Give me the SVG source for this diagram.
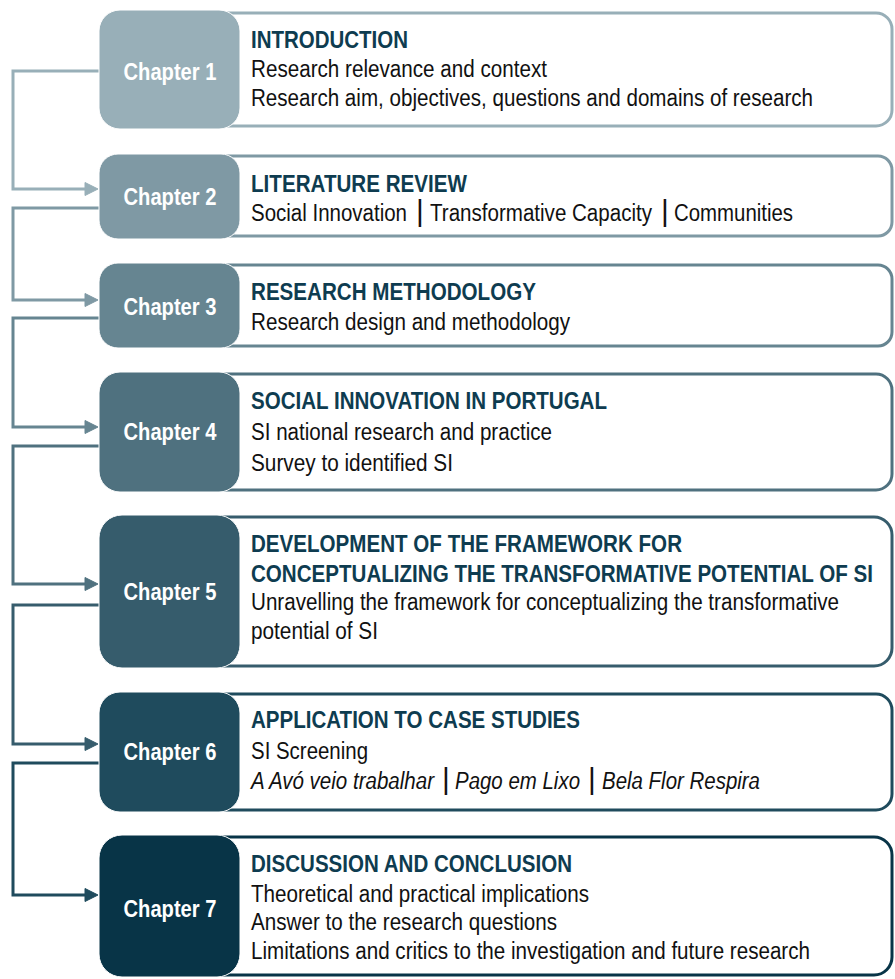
<svg xmlns="http://www.w3.org/2000/svg" xmlns:xlink="http://www.w3.org/1999/xlink" width="895" height="979" viewBox="0 0 895 979">
  <style>
    .frame { fill: #ffffff; stroke-width: 3; }
    .tab { stroke: #ffffff; stroke-width: 1; }
    .lbl { font-family: "Liberation Sans Narrow", "Liberation Sans", Arial, sans-serif; font-size: 24px; font-weight: bold; fill: #ffffff; text-anchor: middle; }
    .ttl { font-family: "Liberation Sans Narrow", "Liberation Sans", Arial, sans-serif; font-size: 23px; font-weight: bold; fill: #0e3c50; }
    .txt { font-family: "Liberation Sans Narrow", "Liberation Sans", Arial, sans-serif; font-size: 23.5px; fill: #111111; }
    .it { font-style: italic; }
    .bar { font-family: "Liberation Sans", Arial, sans-serif; font-size: 30px; fill: #111111; }
    .wire { fill: none; stroke-width: 3; }
    .c1 { color: #98afb8; stroke: #98afb8; }
    .c2 { color: #7f99a4; stroke: #7f99a4; }
    .c3 { color: #668591; stroke: #668591; }
    .c4 { color: #4f717f; stroke: #4f717f; }
    .c5 { color: #365c6c; stroke: #365c6c; }
    .c6 { color: #1f4b5d; stroke: #1f4b5d; }
    .c7 { color: #083447; stroke: #083447; }
  </style>
  <defs>
    <path id="ah" d="M0,-6.5 L13,0 L0,6.5 Z" fill="currentColor"/>
  </defs>

  <rect width="895" height="979" fill="#ffffff"/>

  <!-- connectors: each leaves a chapter tab on the left and enters the next one -->
  <g id="connectors">
    <g class="c1"><path class="wire" d="M100,71 H13 V189 H86"/><use xlink:href="#ah" x="85" y="189"/></g>
    <g class="c2"><path class="wire" d="M100,208 H13 V300 H86"/><use xlink:href="#ah" x="85" y="300"/></g>
    <g class="c3"><path class="wire" d="M100,318 H13 V427 H86"/><use xlink:href="#ah" x="85" y="427"/></g>
    <g class="c4"><path class="wire" d="M100,446 H13 V584 H86"/><use xlink:href="#ah" x="85" y="584"/></g>
    <g class="c5"><path class="wire" d="M100,605 H13 V744 H86"/><use xlink:href="#ah" x="85" y="744"/></g>
    <g class="c6"><path class="wire" d="M100,763 H13 V895 H86"/><use xlink:href="#ah" x="85" y="895"/></g>
  </g>

  <g id="chapter1">
    <rect class="frame c1" x="200" y="13" width="692" height="113" rx="16"/>
    <rect class="tab" x="99" y="10" width="141" height="119" rx="21" fill="#98afb8"/>
    <text class="lbl" x="170" y="80" textLength="93" lengthAdjust="spacingAndGlyphs">Chapter 1</text>
    <text class="ttl" x="251" y="47.5" textLength="157" lengthAdjust="spacingAndGlyphs">INTRODUCTION</text>
    <text class="txt" x="251" y="77" textLength="296" lengthAdjust="spacingAndGlyphs">Research relevance and context</text>
    <text class="txt" x="251" y="106" textLength="562" lengthAdjust="spacingAndGlyphs">Research aim, objectives, questions and domains of research</text>
  </g>

  <g id="chapter2">
    <rect class="frame c2" x="200" y="156" width="692" height="80" rx="14"/>
    <rect class="tab" x="99" y="154" width="141" height="85" rx="19" fill="#7f99a4"/>
    <text class="lbl" x="170" y="205" textLength="93" lengthAdjust="spacingAndGlyphs">Chapter 2</text>
    <text class="ttl" x="251" y="192" textLength="216" lengthAdjust="spacingAndGlyphs">LITERATURE REVIEW</text>
    <text class="txt" x="251" y="221" textLength="156" lengthAdjust="spacingAndGlyphs">Social Innovation</text>
    <text class="bar" x="416" y="221">|</text>
    <text class="txt" x="430" y="221" textLength="222" lengthAdjust="spacingAndGlyphs">Transformative Capacity</text>
    <text class="bar" x="661" y="221">|</text>
    <text class="txt" x="674" y="221" textLength="119" lengthAdjust="spacingAndGlyphs">Communities</text>
  </g>

  <g id="chapter3">
    <rect class="frame c3" x="200" y="265" width="692" height="81" rx="14"/>
    <rect class="tab" x="99" y="263" width="141" height="85" rx="19" fill="#668591"/>
    <text class="lbl" x="170" y="315" textLength="93" lengthAdjust="spacingAndGlyphs">Chapter 3</text>
    <text class="ttl" x="251" y="300" textLength="285" lengthAdjust="spacingAndGlyphs">RESEARCH METHODOLOGY</text>
    <text class="txt" x="251" y="330" textLength="319" lengthAdjust="spacingAndGlyphs">Research design and methodology</text>
  </g>

  <g id="chapter4">
    <rect class="frame c4" x="200" y="374" width="692" height="116" rx="16"/>
    <rect class="tab" x="99" y="372" width="141" height="120" rx="21" fill="#4f717f"/>
    <text class="lbl" x="170" y="440" textLength="93" lengthAdjust="spacingAndGlyphs">Chapter 4</text>
    <text class="ttl" x="251" y="409" textLength="356" lengthAdjust="spacingAndGlyphs">SOCIAL INNOVATION IN PORTUGAL</text>
    <text class="txt" x="251" y="440" textLength="301" lengthAdjust="spacingAndGlyphs">SI national research and practice</text>
    <text class="txt" x="251" y="471" textLength="202" lengthAdjust="spacingAndGlyphs">Survey to identified SI</text>
  </g>

  <g id="chapter5">
    <rect class="frame c5" x="200" y="517" width="692" height="149" rx="18"/>
    <rect class="tab" x="99" y="515" width="141" height="153" rx="23" fill="#365c6c"/>
    <text class="lbl" x="170" y="600" textLength="93" lengthAdjust="spacingAndGlyphs">Chapter 5</text>
    <text class="ttl" x="251" y="552" textLength="431" lengthAdjust="spacingAndGlyphs">DEVELOPMENT OF THE FRAMEWORK FOR</text>
    <text class="ttl" x="251" y="582" textLength="622" lengthAdjust="spacingAndGlyphs">CONCEPTUALIZING THE TRANSFORMATIVE POTENTIAL OF SI</text>
    <text class="txt" x="251" y="610" textLength="588" lengthAdjust="spacingAndGlyphs">Unravelling the framework for conceptualizing the transformative</text>
    <text class="txt" x="251" y="639" textLength="127" lengthAdjust="spacingAndGlyphs">potential of SI</text>
  </g>

  <g id="chapter6">
    <rect class="frame c6" x="200" y="694" width="692" height="116" rx="16"/>
    <rect class="tab" x="99" y="692" width="141" height="120" rx="21" fill="#1f4b5d"/>
    <text class="lbl" x="170" y="760" textLength="93" lengthAdjust="spacingAndGlyphs">Chapter 6</text>
    <text class="ttl" x="251" y="728" textLength="329" lengthAdjust="spacingAndGlyphs">APPLICATION TO CASE STUDIES</text>
    <text class="txt" x="251" y="759" textLength="117" lengthAdjust="spacingAndGlyphs">SI Screening</text>
    <text class="txt it" x="251" y="789" textLength="183" lengthAdjust="spacingAndGlyphs">A Avó veio trabalhar</text>
    <text class="bar" x="442" y="789">|</text>
    <text class="txt it" x="455" y="789" textLength="125" lengthAdjust="spacingAndGlyphs">Pago em Lixo</text>
    <text class="bar" x="588" y="789">|</text>
    <text class="txt it" x="602" y="789" textLength="158" lengthAdjust="spacingAndGlyphs">Bela Flor Respira</text>
  </g>

  <g id="chapter7">
    <rect class="frame c7" x="200" y="837" width="692" height="138" rx="18"/>
    <rect class="tab" x="99" y="835" width="141" height="142" rx="23" fill="#083447"/>
    <text class="lbl" x="170" y="917" textLength="93" lengthAdjust="spacingAndGlyphs">Chapter 7</text>
    <text class="ttl" x="251" y="872" textLength="321" lengthAdjust="spacingAndGlyphs">DISCUSSION AND CONCLUSION</text>
    <text class="txt" x="251" y="902" textLength="338" lengthAdjust="spacingAndGlyphs">Theoretical and practical implications</text>
    <text class="txt" x="251" y="930" textLength="306" lengthAdjust="spacingAndGlyphs">Answer to the research questions</text>
    <text class="txt" x="251" y="959" textLength="559" lengthAdjust="spacingAndGlyphs">Limitations and critics to the investigation and future research</text>
  </g>
</svg>
